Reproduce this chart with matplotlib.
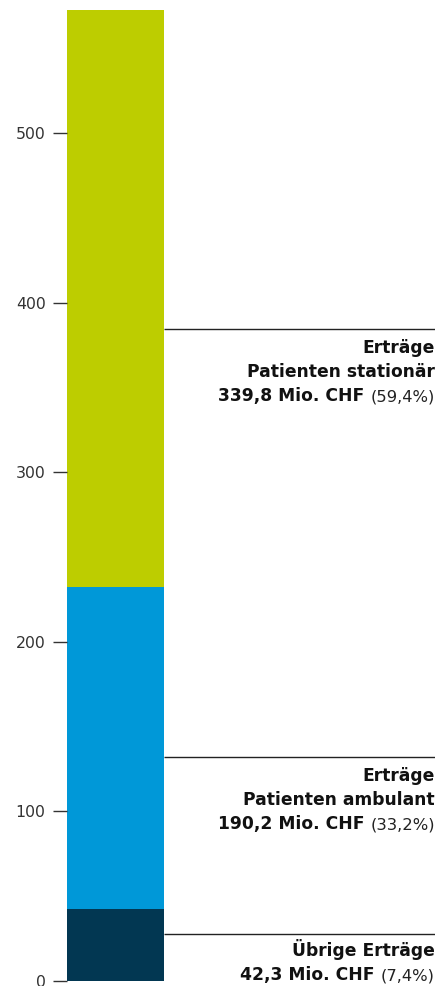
import matplotlib
matplotlib.use("Agg")
import matplotlib.pyplot as plt

# Data
categories = ["Übrige Erträge", "Erträge Patienten ambulant", "Erträge Patienten stationär"]
values = [42.3, 190.2, 339.8]
shares = ["7,4%", "33,2%", "59,4%"]
label_titles = [["Übrige Erträge"], ["Erträge", "Patienten ambulant"], ["Erträge", "Patienten stationär"]]
label_values = ["42,3 Mio. CHF", "190,2 Mio. CHF", "339,8 Mio. CHF"]
leader_y = [27.7, 132.0, 384.4]
colors = ["#023752", "#0098D8", "#BDCD00"]
yticks = [0, 100, 200, 300, 400, 500]

plt.rcParams['font.family'] = ['DejaVu Sans']

W, H = 439, 986
fig = plt.figure(figsize=(W / 100, H / 100), dpi=100)
left_px, right_px = 67, 435
bottom_px, top_px = 981, 10.4
ax = fig.add_axes([left_px / W, (H - bottom_px) / H, (right_px - left_px) / W, (bottom_px - top_px) / H])

total = sum(values)
bar_w = 97 / (right_px - left_px)
bottom = 0
for v, c in zip(values, colors):
    ax.bar(0, v, width=bar_w, bottom=bottom, color=c, align='edge', linewidth=0)
    bottom += v

ax.set_xlim(0, 1)
ax.set_ylim(0, total)
for s in ax.spines.values():
    s.set_visible(False)
ax.set_xticks([])
ax.set_yticks(yticks)
ax.set_yticklabels([str(t) for t in yticks])
ax.tick_params(axis='y', length=10, width=1, color='#333333', pad=5.5,
               labelsize=11.3, labelcolor='#333333')

fs_b = 12.3
fs_r = 11.8
px = 0.72  # points per pixel at 100 dpi
pitch = 24 * px
first_off = [22, 24, 24]
renderer = fig.canvas.get_renderer()
for ly, titles, val, sh, fo in zip(leader_y, label_titles, label_values, shares, first_off):
    ax.hlines(ly, bar_w, 1, color='#222222', linewidth=1)
    for i, t in enumerate(titles):
        ax.annotate(t, xy=(1, ly), xytext=(0, -fo * px - i * pitch), textcoords='offset points',
                    ha='right', va='baseline', fontsize=fs_b, fontweight='bold', color='#111111')
    i = len(titles)
    yoff = -fo * px - i * pitch
    reg = ax.annotate(f"({sh})", xy=(1, ly), xytext=(0, yoff), textcoords='offset points',
                      ha='right', va='baseline', fontsize=fs_r, fontweight='normal', color='#222222')
    wpx = reg.get_window_extent(renderer).width
    ax.annotate(val + " ", xy=(1, ly), xytext=(-wpx * px, yoff), textcoords='offset points',
                ha='right', va='baseline', fontsize=fs_b, fontweight='bold', color='#111111')

fig.savefig("out.png", dpi=100)
